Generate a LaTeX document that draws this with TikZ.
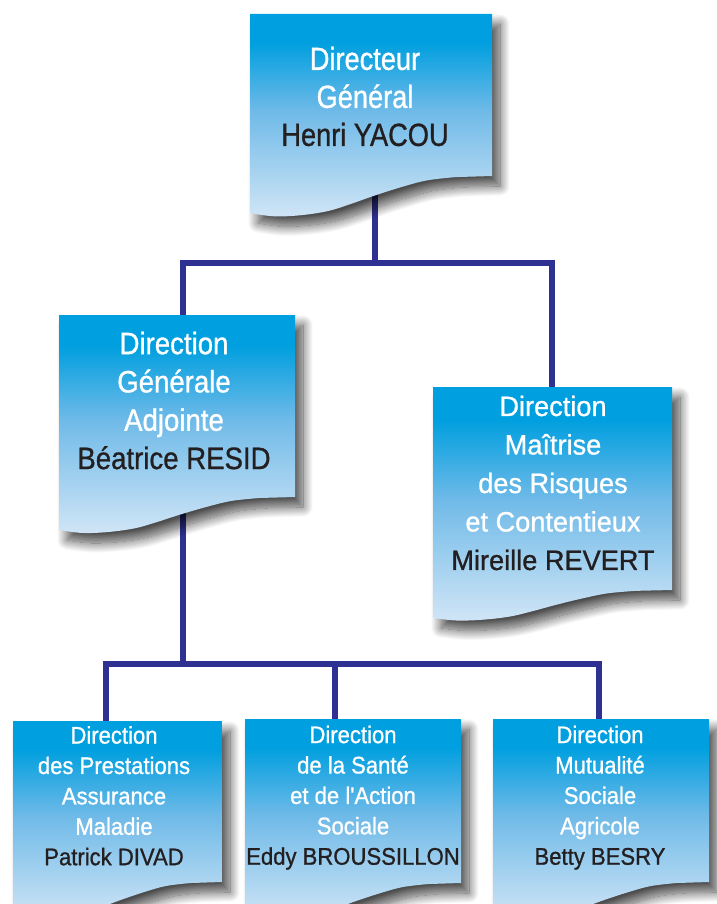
\documentclass[tikz,border=0pt]{standalone}
\usepackage{fontspec}
\usetikzlibrary{shadows.blur}
\newfontfamily\fontA{Liberation Sans}[FakeStretch=0.85,FakeBold=0.9]
\newfontfamily\fontB{Liberation Sans}[FakeStretch=0.89,FakeBold=0.9]
\newfontfamily\fontC{Liberation Sans}[FakeStretch=0.97,FakeBold=0.9]
\newfontfamily\fontD{Liberation Sans}[FakeStretch=0.92,FakeBold=0.9]
\newcommand\fA{\fontA\fontsize{32}{38}\selectfont}
\newcommand\fB{\fontB\fontsize{31}{38.3}\selectfont}
\newcommand\fC{\fontC\fontsize{28}{38.5}\selectfont}
\newcommand\fD{\fontD\fontsize{24}{30.4}\selectfont}
\definecolor{boxtop}{HTML}{009FDF}
\definecolor{boxmid}{HTML}{6FBAE8}
\definecolor{boxbot}{HTML}{D0E5F6}
\definecolor{conncol}{HTML}{2E3192}
\definecolor{namecol}{HTML}{231F20}
\pgfdeclareverticalshading{docshade}{100bp}{color(0bp)=(boxbot); color(25bp)=(boxbot); color(51bp)=(boxmid); color(68bp)=(boxtop); color(100bp)=(boxtop)}
\newcommand\pname[1]{\textcolor{namecol}{#1}}
\newcommand\docbox[5]{%
\path[docbox] (#1,#2) -- (#3,#2) -- (#3,#4)
 -- plot[smooth,tension=0.6] coordinates {({#1+0.85*(#3-#1)},{#4+0.03*#5}) ({#1+0.73*(#3-#1)},{#4+0.12*#5}) ({#1+0.62*(#3-#1)},{#4+0.31*#5}) ({#1+0.51*(#3-#1)},{#4+0.54*#5}) ({#1+0.41*(#3-#1)},{#4+0.77*#5}) ({#1+0.32*(#3-#1)},{#4+0.95*#5}) ({#1+0.21*(#3-#1)},{#4+1.06*#5}) ({#1+0.1*(#3-#1)},{#4+1.09*#5}) (#1,{#4+#5})} -- cycle;}
\tikzset{
  docbox/.style={shading=docshade, blur shadow={shadow xshift=8pt, shadow yshift=-10pt, shadow blur radius=10pt, shadow blur steps=18, shadow opacity=70}},
  conn/.style={draw=conncol, line width=6pt, line join=miter, line cap=butt},
  txt/.style={anchor=north, align=center, inner sep=0pt, text=white}
}
\begin{document}
\begin{tikzpicture}[x=1pt,y=-1pt]
\useasboundingbox (0,0) rectangle (716,904);
% connector coordinates
\coordinate (dgBot) at (375,150);
\coordinate (bus1) at (375,263);
\coordinate (dgaTop) at (183,330);
\coordinate (dmrTop) at (552,400);
\coordinate (dgaBot) at (183,480);
\coordinate (bus2) at (183,664);
\coordinate (dpaTop) at (105.5,735);
\coordinate (dssTop) at (335,735);
\coordinate (msaTop) at (599,735);
% connectors
\draw[conn] (dgBot) -- (bus1);
\draw[conn] (dgaTop) |- (bus1) -| (dmrTop);
\draw[conn] (dgaBot) -- (bus2);
\draw[conn] (dpaTop) |- (bus2) -| (msaTop);
\draw[conn] (dssTop) -- (dssTop |- bus2);
% boxes
\docbox{250}{14}{492}{176}{37}
\docbox{59}{315}{295}{497}{33}
\docbox{433}{387}{672}{590}{28}
\docbox{13}{721}{222}{882}{34}
\docbox{245}{719}{461}{883}{34}
\docbox{493}{719}{709}{882}{34}
% texts
\node[txt, font=\fA] (t1) at (365,46.5) {Directeur\\Général\\\pname{Henri YACOU}};
\node[txt, font=\fB] (t2) at (174,331.5) {Direction\\Générale\\Adjointe\\\pname{Béatrice RESID}};
\node[txt, font=\fC] (t3) at (553,395.5) {Direction\\Maîtrise\\des Risques\\et Contentieux\\\pname{Mireille REVERT}};
\node[txt, font=\fD] (t4) at (114,726) {Direction\\des Prestations\\Assurance\\Maladie\\\pname{Patrick DIVAD}};
\node[txt, font=\fD] (t5) at (353,725.5) {Direction\\de la Santé\\et de l'Action\\Sociale\\\pname{Eddy BROUSSILLON}};
\node[txt, font=\fD] (t6) at (600,725.5) {Direction\\Mutualité\\Sociale\\Agricole\\\pname{Betty BESRY}};
\end{tikzpicture}
\end{document}
